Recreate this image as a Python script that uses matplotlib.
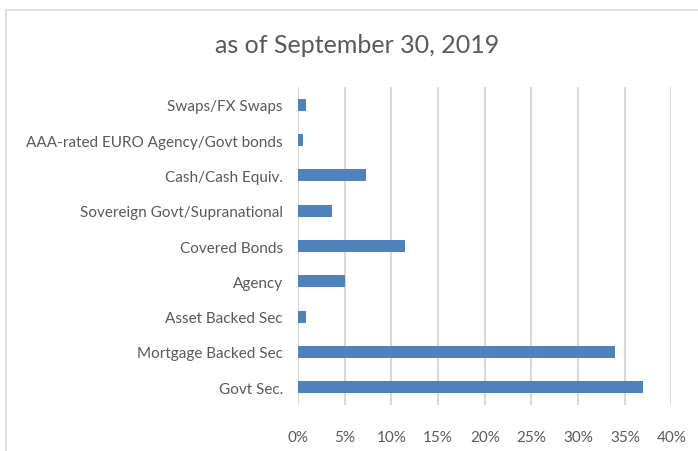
import matplotlib
matplotlib.use("Agg")
import matplotlib.pyplot as plt
from matplotlib.patches import Rectangle
from matplotlib.ticker import FuncFormatter

categories = [
    "Govt Sec.",
    "Mortgage Backed Sec",
    "Asset Backed Sec",
    "Agency",
    "Covered Bonds",
    "Sovereign Govt/Supranational",
    "Cash/Cash Equiv.",
    "AAA-rated EURO Agency/Govt bonds",
    "Swaps/FX Swaps",
]
weights = [0.369, 0.339, 0.008, 0.050, 0.115, 0.036, 0.073, 0.005, 0.008]
x_ticks = [0.0, 0.05, 0.10, 0.15, 0.20, 0.25, 0.30, 0.35, 0.40]
title = "as of September 30, 2019"

TEXT = "#595959"
GRID = "#d9d9d9"
BAR = "#4f81bd"

plt.rcParams["font.family"] = ["Lato", "DejaVu Sans"]

fig = plt.figure(figsize=(6.98, 4.52), dpi=100)
ax = fig.add_axes([0.427, 0.102, 0.535, 0.703])

ypos = range(len(categories))
ax.barh(ypos, weights, height=0.34, color=BAR, zorder=3)

ax.set_xlim(0, 0.40)
ax.set_ylim(-0.5, len(categories) - 0.5)
ax.set_xticks(x_ticks)
ax.xaxis.set_major_formatter(FuncFormatter(lambda v, _: f"{v * 100:.0f}%"))
ax.set_yticks(list(ypos))
ax.set_yticklabels(categories)
ax.grid(axis="x", color=GRID, linewidth=1.5, zorder=0)
for s in ax.spines.values():
    s.set_visible(False)
ax.tick_params(axis="both", length=0, colors=TEXT, labelsize=11)
ax.tick_params(axis="x", pad=18)
ax.tick_params(axis="y", pad=11)

fig.text(0.511, 0.90, title, ha="center", va="center", fontsize=18, color=TEXT)

fig.patches.append(Rectangle((0.009, -0.05), 1.2, 1.026, transform=fig.transFigure,
                             fill=False, edgecolor=GRID, linewidth=1.2))

fig.savefig("out.png", dpi=100)
